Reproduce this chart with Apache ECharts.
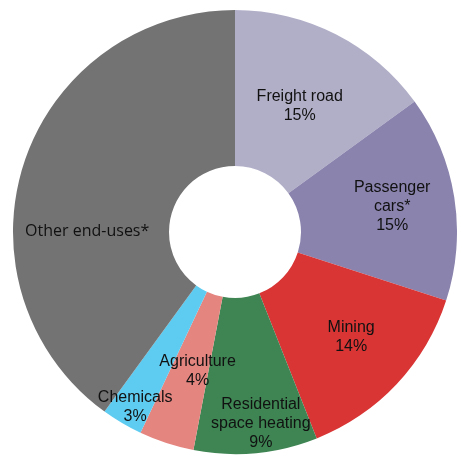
<!DOCTYPE html>
<html><head><meta charset="utf-8">
<script src="https://cdn.jsdelivr.net/npm/echarts@6/dist/echarts.min.js"></script>
<style>html,body{margin:0;padding:0;background:#fff}#c{width:457px;height:456px}</style>
</head><body><div id="c"></div>
<script>
const categories = ['Freight road', 'Passenger\ncars*', 'Mining', 'Residential\nspace heating', 'Agriculture', 'Chemicals', 'Other end-uses*'];
const values = [15, 15, 14, 9, 4, 3, 40];
const colors = ['#b1afc8', '#8a83ad', '#d93535', '#3e8553', '#e58580', '#5ecbf0', '#737373'];
const labelOffsets = [[-2, 5], [12, -2], [9, 4], [12, 45], [8, -1], [-25, 49], [-8, 45]];

const chart = echarts.init(document.getElementById('c'));
chart.setOption({
  animation: false,
  series: [{
    type: 'pie',
    center: [235, 232],
    radius: [66, 222],
    startAngle: 90,
    clockwise: true,
    avoidLabelOverlap: false,
    labelLayout: { hideOverlap: false },
    label: {
      show: true,
      position: 'inside',
      color: '#111',
      fontFamily: 'Liberation Sans',
      fontSize: 16,
      lineHeight: 19,
      align: 'center',
      formatter: p => p.name + (p.dataIndex === 6 ? '' : '\n' + p.value + '%')
    },
    labelLine: { show: false },
    emphasis: { disabled: true },
    data: categories.map((n, i) => ({
      name: n, value: values[i],
      itemStyle: { color: colors[i] },
      label: i === 6 ? { offset: labelOffsets[i], fontFamily: 'Open Sans', fontSize: 16 } : { offset: labelOffsets[i] }
    }))
  }]
});
</script></body></html>
